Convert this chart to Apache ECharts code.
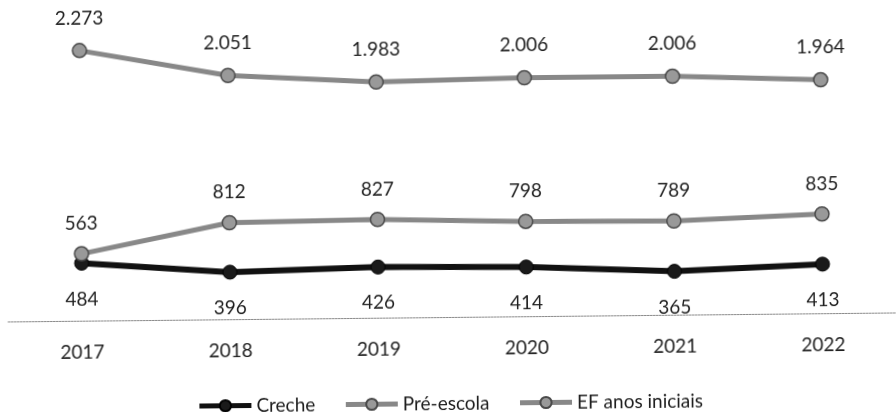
<!DOCTYPE html>
<html>
<head>
<meta charset="utf-8">
<script src="https://cdn.jsdelivr.net/npm/echarts@6/dist/echarts.min.js"></script>
<style>
  html, body { margin: 0; padding: 0; background: #fff; }
  #chart { width: 896px; height: 412px; transform: rotate(-0.58deg); transform-origin: 50% 50%; }
</style>
</head>
<body>
<div id="chart"></div>
<script>
// Matrículas por etapa, 2017–2022
const years = ['2017', '2018', '2019', '2020', '2021', '2022'];
const creche = [484, 396, 426, 414, 365, 413];
const preEscola = [563, 812, 827, 798, 789, 835];
const efAnosIniciais = [2273, 2051, 1983, 2006, 2006, 1964];

// pt-BR thousands separator
const fmt = v => String(v).replace(/\B(?=(\d{3})+(?!\d))/g, '.');

const FONT = 'Lato';
const TEXT = '#1e1e1e';

const labelStyle = (pos, dist) => ({
  show: true,
  position: pos,
  distance: dist,
  fontFamily: FONT,
  fontSize: 19,
  color: TEXT,
  formatter: p => fmt(p.value)
});

const chart = echarts.init(document.getElementById('chart'), null, { renderer: 'canvas' });

chart.setOption({
  animation: false,
  backgroundColor: '#fff',
  grid: { left: 7, right: -3, top: 8, bottom: 95, containLabel: false },
  legend: {
    top: 389,
    left: 'center',
    itemWidth: 52,
    itemHeight: 14,
    itemGap: 28,
    lineStyle: { width: 5 },
    textStyle: { fontFamily: FONT, fontSize: 19, color: TEXT },
    data: ['Creche', 'Pré-escola', 'EF anos iniciais']
  },
  xAxis: {
    type: 'category',
    data: years,
    boundaryGap: true,
    axisLine: { show: true, lineStyle: { color: '#8a8a8a', width: 1, type: [2, 1] } },
    axisTick: { show: false },
    axisLabel: { fontFamily: FONT, fontSize: 19, color: TEXT, margin: 22 }
  },
  yAxis: {
    type: 'value',
    min: 0,
    max: 2600,
    show: false,
    splitLine: { show: false }
  },
  series: [
    {
      name: 'Creche',
      type: 'line',
      data: creche,
      symbol: 'circle',
      symbolSize: 14,
      lineStyle: { color: '#111', width: 6 },
      itemStyle: { color: '#1a1a1a', borderColor: '#000', borderWidth: 1 },
      label: labelStyle('bottom', 19),
      z: 3
    },
    {
      name: 'Pré-escola',
      type: 'line',
      data: preEscola,
      symbol: 'circle',
      symbolSize: 14,
      lineStyle: { color: '#888', width: 5 },
      itemStyle: { color: '#999', borderColor: '#4a4a4a', borderWidth: 1.5 },
      label: labelStyle('top', 13),
      z: 4
    },
    {
      name: 'EF anos iniciais',
      type: 'line',
      data: efAnosIniciais,
      symbol: 'circle',
      symbolSize: 14,
      lineStyle: { color: '#888', width: 5 },
      itemStyle: { color: '#999', borderColor: '#4a4a4a', borderWidth: 1.5 },
      label: labelStyle('top', 15),
      z: 4
    }
  ]
});
</script>
</body>
</html>
